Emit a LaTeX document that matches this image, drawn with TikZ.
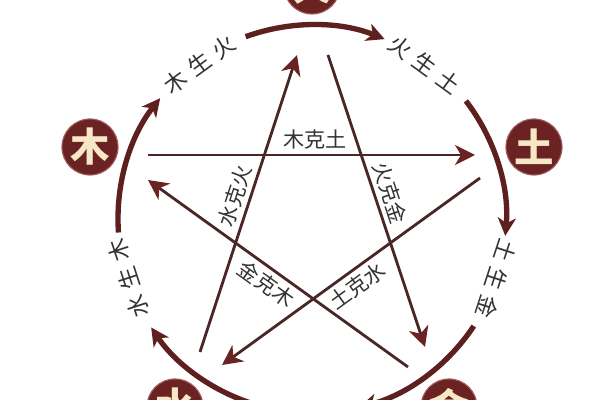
\documentclass[tikz,border=0pt]{standalone}
\usepackage{fontspec}
\setmainfont{Noto Sans CJK SC}
\usetikzlibrary{arrows.meta}

\definecolor{maroon}{HTML}{6B2222}
\definecolor{elemrim}{HTML}{A05A5A}
\definecolor{cream}{HTML}{F6E7C6}
\definecolor{ringred}{HTML}{5E1F1F}
\definecolor{keline}{HTML}{4A2626}
\definecolor{textgrey}{HTML}{333333}

\begin{document}
\begin{tikzpicture}[
    x=0.025cm, y=0.025cm,
    elem/.style={
      circle,
      draw=elemrim,
      line width=0.8pt,
      fill=maroon,
      text=cream,
      minimum size=1.4cm,
      inner sep=0pt,
      font=\fontsize{28}{28}\selectfont\bfseries
    },
    ring/.style={
      draw=ringred,
      line width=3.8pt,
      -{Stealth[length=4.5mm,width=4.5mm,inset=1.3mm]}
    },
    ke/.style={
      draw=keline,
      line width=2pt,
      -{Stealth[length=5mm,width=5mm,inset=1.5mm,color=maroon]}
    },
    kelabel/.style={
      font=\fontsize{15}{15}\selectfont,
      text=textgrey,
      sloped,
      inner sep=3pt
    },
    shenglabel/.style={
      font=\fontsize{16}{16}\selectfont,
      text=textgrey,
      inner sep=0pt
    }
  ]
    \useasboundingbox (0,0) rectangle (600,400);
    \fill[white] (0,0) rectangle (600,400);
    \clip (0,0) rectangle (600,400);

    \coordinate (ctr) at (312,181);

    % the five elements
    \node[elem] (huo) at (312,414) {火};
    \node[elem] (mu) at (90,253) {木};
    \node[elem] (tu) at (534,253) {土};
    \node[elem] (shui) at (175,-7) {水};
    \node[elem] (jin) at (449,-7) {金};

    % sheng cycle round the ring
    \coordinate (ringA) at ([shift={(184:194)}]ctr);
    \coordinate (ringB) at ([shift={(110:194)}]ctr);
    \coordinate (ringC) at ([shift={(37.5:194)}]ctr);
    \coordinate (ringD) at ([shift={(-33.5:194)}]ctr);
    \coordinate (ringE) at ([shift={(254:194)}]ctr);

    \draw[ring] (ringA) arc[start angle=184, end angle=141.5, radius=194];
    \draw[ring] (ringB) arc[start angle=110, end angle=68, radius=194];
    \draw[ring] (ringC) arc[start angle=37.5, end angle=-5, radius=194];
    \draw[ring] (ringD) arc[start angle=-33.5, end angle=-76, radius=194];
    \draw[ring] (ringE) arc[start angle=254, end angle=214, radius=194];

    \node[shenglabel, rotate=36] (muhuo) at ([shift={(126:191)}]ctr) {木\hspace{1.8mm}生\hspace{1.8mm}火};
    \node[shenglabel, rotate=-36] (huotu) at ([shift={(54:191)}]ctr) {火\hspace{1.8mm}生\hspace{1.8mm}土};
    \node[shenglabel, rotate=-108] (tujin) at ([shift={(-18:194)}]ctr) {土\hspace{1.8mm}生\hspace{1.8mm}金};
    \node[shenglabel, rotate=108] (shuimu) at ([shift={(198:193)}]ctr) {水\hspace{1.8mm}生\hspace{1.8mm}木};

    % ke cycle, the star
    \coordinate (mutu1) at (148,245);
    \coordinate (mutu2) at (475,245);
    \coordinate (tushui1) at (480,222);
    \coordinate (tushui2) at (222,35);
    \coordinate (shuihuo1) at (200,48);
    \coordinate (shuihuo2) at (297,345);
    \coordinate (huojin1) at (328,345);
    \coordinate (huojin2) at (425,53);
    \coordinate (jinmu1) at (408,33);
    \coordinate (jinmu2) at (148,220);

    \draw[ke] (mutu1) -- node[kelabel, above, pos=0.51] {木克土} (mutu2);
    \draw[ke] (tushui1) -- node[kelabel, below, pos=0.51] {土克水} (tushui2);
    \draw[ke] (shuihuo1) -- node[kelabel, above, pos=0.51] {水克火} (shuihuo2);
    \draw[ke] (huojin1) -- node[kelabel, above, pos=0.49] {火克金} (huojin2);
    \draw[ke] (jinmu1) -- node[kelabel, below, pos=0.51] {金克木} (jinmu2);
  \end{tikzpicture}
\end{document}
